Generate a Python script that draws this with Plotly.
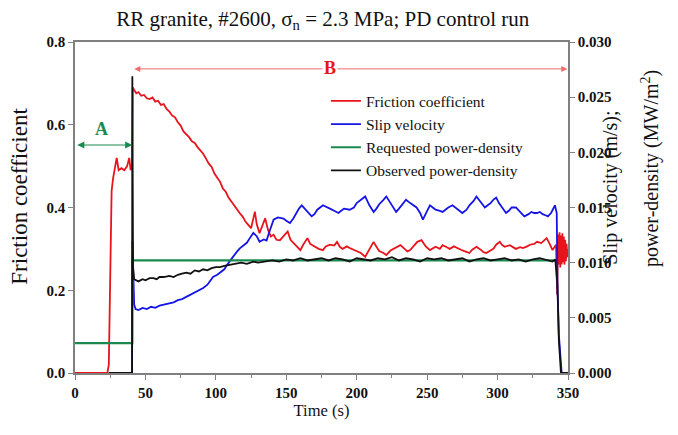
import plotly.graph_objects as go

# ---------------- data ----------------
# Friction coefficient (left axis)
fric_t = [0, 23, 24, 25, 26, 27, 28, 29.6, 31, 33, 35, 37, 38.5, 39.5, 40.5,
          41, 42, 43.5, 45, 47, 49, 51, 53, 55, 57, 59, 61, 63, 65, 67, 69, 71, 73, 75,
          77, 79, 81, 83, 85, 87, 89, 91, 93, 95, 97, 99, 101, 103, 105, 107, 109, 111,
          113, 115, 117, 119, 121, 123, 125, 126.5, 127.7, 129, 131, 133, 135, 137, 139,
          141, 143, 145.5, 148, 151, 153, 155, 157, 160, 162, 165, 167, 170, 173, 176,
          178, 181, 184, 186, 188, 190, 193, 195, 198, 200, 203, 206, 209, 212, 214, 216,
          219, 221, 224, 226, 229, 231, 234, 236, 238, 241, 243, 246, 249, 252, 254, 256,
          259, 261, 264, 266, 269, 271, 274, 276, 278, 280, 282, 285, 288, 290, 292, 295,
          297, 299, 301.6, 303, 305, 308.7, 311, 313, 316, 318, 321, 323, 326, 328, 331,
          334.8, 337, 339, 341.5, 342.3, 343, 343.5, 344, 344.5, 345, 345.5, 346, 346.5,
          347, 347.5, 348, 348.5, 349, 349.5, 350]
fric_v = [0, 0, 0.02, 0.30, 0.44, 0.47, 0.49, 0.52, 0.49, 0.495, 0.49, 0.50, 0.52, 0.49, 0.50,
          0.690, 0.684, 0.676, 0.679, 0.670, 0.672, 0.664, 0.662, 0.666, 0.656, 0.658, 0.648,
          0.650, 0.638, 0.632, 0.622, 0.618, 0.606, 0.598, 0.584, 0.578, 0.570, 0.560, 0.556,
          0.546, 0.538, 0.530, 0.518, 0.506, 0.498, 0.482, 0.472, 0.462, 0.446, 0.438, 0.424,
          0.414, 0.404, 0.396, 0.386, 0.378, 0.366, 0.358, 0.350, 0.372, 0.390, 0.360, 0.338,
          0.356, 0.374, 0.346, 0.330, 0.334, 0.322, 0.321, 0.330, 0.342, 0.322, 0.315, 0.306,
          0.297, 0.310, 0.326, 0.312, 0.305, 0.300, 0.297, 0.306, 0.310, 0.308, 0.317, 0.305,
          0.300, 0.306, 0.302, 0.298, 0.295, 0.290, 0.281, 0.300, 0.317, 0.305, 0.295, 0.290,
          0.285, 0.296, 0.300, 0.306, 0.309, 0.300, 0.294, 0.297, 0.308, 0.317, 0.321, 0.306,
          0.297, 0.302, 0.305, 0.300, 0.309, 0.304, 0.300, 0.306, 0.302, 0.298, 0.295, 0.292,
          0.290, 0.298, 0.305, 0.298, 0.292, 0.290, 0.296, 0.300, 0.310, 0.317, 0.310, 0.305,
          0.309, 0.304, 0.300, 0.304, 0.302, 0.306, 0.310, 0.312, 0.317, 0.314, 0.326, 0.312,
          0.297, 0.310, 0.190, 0.335, 0.262, 0.340, 0.255, 0.332, 0.262, 0.338, 0.268, 0.330,
          0.262, 0.322, 0.270, 0.312, 0.280, 0.300]

# Slip velocity (right axis, m/s)
slip_t = [24, 40.5, 40.8, 42, 43, 45, 48, 51, 54, 57, 60, 64, 67, 70, 73, 76, 79, 82, 85,
          88, 91, 94, 98, 101, 103, 106, 108, 110, 112, 115, 117, 120, 122, 124, 126.6, 129,
          131, 134, 136, 138, 141, 144, 148, 150, 152.6, 155, 157, 159, 161, 163, 165, 168,
          170, 172, 176, 178, 181, 184, 187, 189, 191, 195, 198, 200, 203, 206, 209, 212, 214,
          216, 219, 221, 223, 225, 228, 230, 232, 235, 238, 240, 242.5, 245, 247, 250, 252,
          254, 256, 259, 261, 263, 265, 268, 270, 272, 275, 278, 280, 283, 285, 288, 291, 293,
          295, 297, 299, 301, 303, 306, 308, 310, 313, 316, 319, 322, 324, 326, 328, 330, 332,
          334, 335.7, 338, 340.7, 342, 342.5, 343.5, 344.5, 345.5, 350]
slip_v = [0, 0, 0.0120, 0.0062, 0.0058, 0.0057, 0.0059, 0.0058, 0.0060, 0.0059, 0.0061,
          0.0062, 0.0063, 0.0064, 0.0066, 0.0067, 0.0069, 0.0071, 0.0073, 0.0075, 0.0077,
          0.0080, 0.0087, 0.0089, 0.0091, 0.0094, 0.0098, 0.0101, 0.0105, 0.0110, 0.0113,
          0.0116, 0.0118, 0.0122, 0.0127, 0.0124, 0.0119, 0.0121, 0.0120, 0.0128, 0.0139,
          0.0141, 0.0140, 0.0138, 0.0136, 0.0140, 0.0145, 0.0149, 0.0152, 0.0149, 0.0146,
          0.0142, 0.0144, 0.0148, 0.0152, 0.0151, 0.0149, 0.0147, 0.0145, 0.0147, 0.0149,
          0.0148, 0.0150, 0.0154, 0.0157, 0.0160, 0.0152, 0.0146, 0.0149, 0.0153, 0.0157,
          0.0160, 0.0156, 0.0152, 0.0146, 0.0149, 0.0152, 0.0157, 0.0154, 0.0152, 0.0150,
          0.0145, 0.0139, 0.0147, 0.0152, 0.0150, 0.0148, 0.0147, 0.0146, 0.0148, 0.0150,
          0.0152, 0.0150, 0.0148, 0.0145, 0.0148, 0.0152, 0.0156, 0.0160, 0.0155, 0.0150,
          0.0152, 0.0154, 0.0157, 0.0159, 0.0154, 0.0150, 0.0145, 0.0147, 0.0150, 0.0150,
          0.0146, 0.0142, 0.0144, 0.0146, 0.0145, 0.0145, 0.0146, 0.0144, 0.0143, 0.0142,
          0.0145, 0.0152, 0.0145, 0.0080, 0.0035, 0.0012, 0.0, 0.0]

# Requested power-density (right axis, MW/m^2)
req_t = [0, 40.7, 40.7, 341]
req_v = [0.0027, 0.0027, 0.0102, 0.0102]

# Observed power-density (right axis, MW/m^2)
obs_t = [24, 40.5, 40.7, 41.2, 42, 45, 48, 50, 53, 55.6, 58, 60, 63, 67, 70, 73, 76, 79,
         82, 85, 88, 91, 94, 97, 100, 103, 106, 110, 114, 118, 122, 126.6, 130, 135, 140,
         145, 150, 155, 160, 165, 170, 175, 180, 185, 190, 195, 200, 205, 210, 215, 220,
         225, 230, 235, 240, 245, 250, 255, 260, 265, 270, 275, 280, 285, 290, 295, 300,
         305, 310, 315, 320, 325, 330, 335, 339, 341, 342.5, 343.5, 344.5, 345, 350]
obs_v = [0, 0, 0.0269, 0.0095, 0.0085, 0.0083, 0.0085, 0.0084, 0.0086, 0.0086, 0.0085,
         0.0087, 0.0087, 0.0088, 0.0087, 0.0089, 0.0090, 0.0091, 0.0090, 0.0093, 0.0092,
         0.0094, 0.0093, 0.0095, 0.0096, 0.0096, 0.0097, 0.0098, 0.0099, 0.0100, 0.0099,
         0.0101, 0.0100, 0.0101, 0.0102, 0.0101, 0.0103, 0.0102, 0.0104, 0.0102, 0.0103,
         0.0104, 0.0102, 0.0104, 0.0103, 0.0101, 0.0104, 0.0103, 0.0102, 0.0104, 0.0103,
         0.0105, 0.0102, 0.0104, 0.0103, 0.0101, 0.0104, 0.0103, 0.0104, 0.0102, 0.0103,
         0.0104, 0.0101, 0.0103, 0.0104, 0.0102, 0.0103, 0.0104, 0.0102, 0.0103, 0.0101,
         0.0103, 0.0104, 0.0102, 0.0101, 0.0103, 0.0080, 0.0030, 0.0005, 0.0, 0.0]

x_ticks = [0, 50, 100, 150, 200, 250, 300, 350]
left_ticks = [0.0, 0.2, 0.4, 0.6, 0.8]
right_ticks = [0.000, 0.005, 0.010, 0.015, 0.020, 0.025, 0.030]

# ---------------- figure ----------------
SERIF = "Liberation Serif"
RED = "#e8141c"
BLUE = "#1414e6"
GREEN = "#1a8a50"
BLACK = "#111111"
AX = "#808080"

fig = go.Figure()
fig.add_trace(go.Scatter(x=fric_t, y=fric_v, mode="lines", name="Friction coefficient",
                         line=dict(color=RED, width=1.8), yaxis="y"))
fig.add_trace(go.Scatter(x=slip_t, y=slip_v, mode="lines", name="Slip velocity",
                         line=dict(color=BLUE, width=1.8), yaxis="y2"))
fig.add_trace(go.Scatter(x=req_t, y=req_v, mode="lines", name="Requested power-density",
                         line=dict(color=GREEN, width=2.2), yaxis="y2"))
fig.add_trace(go.Scatter(x=obs_t, y=obs_v, mode="lines", name="Observed power-density",
                         line=dict(color=BLACK, width=1.8), yaxis="y2"))

tickfont = dict(family=SERIF, size=15, color="#111")

fig.update_layout(
    width=678, height=435,
    margin=dict(l=75, r=110, t=42, b=62),
    paper_bgcolor="white", plot_bgcolor="white",
    title=dict(text="RR granite, #2600, σ<sub>n</sub> = 2.3 MPa; PD control run",
               x=0.476, xanchor="center", y=0.958, yanchor="middle",
               font=dict(family=SERIF, size=21, color="#111")),
    showlegend=True,
    legend=dict(x=0.509, y=0.872, xanchor="left", yanchor="top",
                bgcolor="rgba(0,0,0,0)", borderwidth=0,
                font=dict(family=SERIF, size=15.5, color="#111"), tracegroupgap=0),
    xaxis=dict(range=[0, 350], tickvals=x_ticks, ticktext=["<b>%d</b>" % v for v in x_ticks],
               showgrid=False, zeroline=False, showline=True, linecolor=AX, linewidth=1.5,
               mirror=True, ticks="outside", ticklen=5, tickcolor=AX, tickwidth=1.2,
               minor=dict(dtick=25, ticklen=3, tickcolor=AX, ticks="outside", showgrid=False),
               tickfont=tickfont,
               title=dict(text="Time (s)", font=dict(family=SERIF, size=16.5, color="#111"),
                          standoff=5)),
    yaxis=dict(range=[0, 0.8], tickvals=left_ticks,
               ticktext=["<b>%.1f</b>" % v for v in left_ticks],
               showgrid=False, zeroline=False, showline=True, linecolor=AX, linewidth=1.5,
               ticks="outside", ticklen=5, tickcolor=AX, tickwidth=1.2, tickfont=tickfont),
    yaxis2=dict(range=[0, 0.03], tickvals=right_ticks,
                ticktext=["<b>%.3f</b>" % v for v in right_ticks], overlaying="y", side="right",
                showgrid=False, zeroline=False, showline=True, linecolor=AX, linewidth=1.5,
                ticks="outside", ticklen=5, tickcolor=AX, tickwidth=1.2, tickfont=tickfont),
)

# left axis title
fig.add_annotation(text="Friction coefficient", xref="paper", yref="paper",
                   x=-0.112, y=0.535, xanchor="center", yanchor="middle", textangle=-90,
                   showarrow=False, font=dict(family=SERIF, size=23, color="#111"))

# right-axis titles (two separate rotated lines)
fig.add_annotation(text="Slip velocity (m/s);", xref="paper", yref="paper",
                   x=1.087, y=0.559, xanchor="center", yanchor="middle", textangle=-90,
                   showarrow=False, font=dict(family=SERIF, size=20, color="#111"))
fig.add_annotation(text="power-density (MW/m<sup>2</sup>)", xref="paper", yref="paper",
                   x=1.166, y=0.619, xanchor="center", yanchor="middle", textangle=-90,
                   showarrow=False, font=dict(family=SERIF, size=20, color="#111"))

# region A arrow + label
fig.add_annotation(x=40.7, y=0.551, ax=0.5, ay=0.551, xref="x", yref="y", axref="x", ayref="y",
                   showarrow=True, arrowhead=2, startarrowhead=2, arrowside="end+start",
                   arrowsize=1.2, arrowwidth=1.2, arrowcolor=GREEN, text="")
fig.add_annotation(x=19, y=0.59, xref="x", yref="y", text="<b>A</b>", showarrow=False,
                   font=dict(family=SERIF, size=18, color=GREEN))

# region B arrow + label
fig.add_annotation(x=349.5, y=0.735, ax=41, ay=0.735, xref="x", yref="y", axref="x", ayref="y",
                   showarrow=True, arrowhead=2, startarrowhead=2, arrowside="end+start",
                   arrowsize=1.2, arrowwidth=1.0, arrowcolor="#ee6b6b", text="")
fig.add_annotation(x=181, y=0.737, xref="x", yref="y", text="<b>B</b>", showarrow=False,
                   bgcolor="white", font=dict(family=SERIF, size=18, color=RED))

fig.write_html("out.html")
